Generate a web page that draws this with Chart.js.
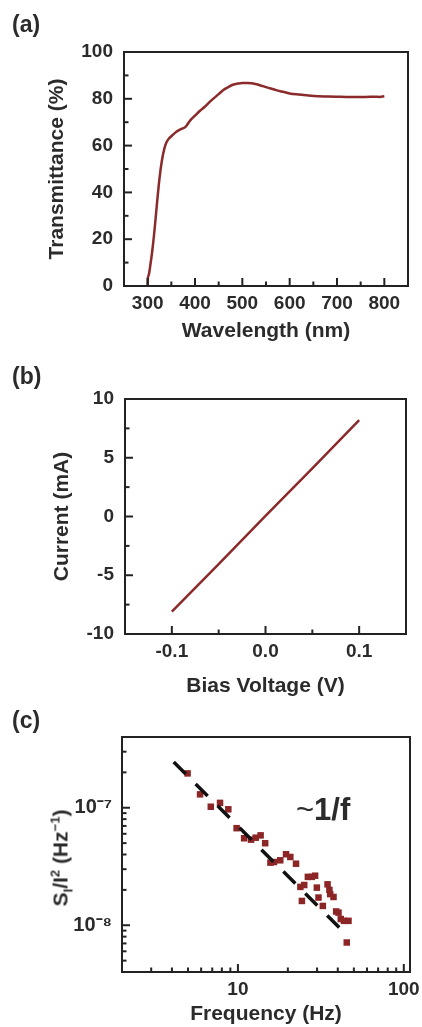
<!DOCTYPE html>
<html><head><meta charset="utf-8">
<script src="https://cdn.jsdelivr.net/npm/chart.js@4.4.0/dist/chart.umd.min.js"></script>
<style>
html,body{margin:0;padding:0;background:#fff;}
body{width:422px;height:1027px;position:relative;overflow:hidden;font-family:'Liberation Sans',Arial,sans-serif;color:#2b2b2b;}
canvas{position:absolute;left:0;}
.lbl{position:absolute;font-weight:bold;font-size:23px;line-height:1;}
#ctitle{position:absolute;left:60px;top:858px;transform:translate(-50%,-50%) rotate(-90deg);white-space:nowrap;font-weight:bold;font-size:21px;line-height:1;}
#ctitle sub,#ctitle sup{font-size:13px;line-height:0;}
#onef{position:absolute;left:296px;top:794px;font-size:31px;line-height:1;white-space:nowrap;color:#2b2b2b;}
#onef b{font-weight:bold;}
</style></head><body>
<canvas id="ca" width="422" height="345" style="top:0"></canvas>
<canvas id="cb" width="422" height="355" style="top:345px"></canvas>
<canvas id="cc" width="422" height="327" style="top:700px"></canvas>
<div class="lbl" style="left:12px;top:13px">(a)</div>
<div class="lbl" style="left:12px;top:365px">(b)</div>
<div class="lbl" style="left:12px;top:709px">(c)</div>
<div id="ctitle">S<sub>I</sub>/I<sup>2</sup> (Hz<sup>&minus;1</sup>)</div>
<div id="onef">~<b>1/f</b></div>
<script>
// ---------- data ----------
const WAVELENGTH = [300,300.5,302,305,310,315,320,325,330,335,340,345,350,360,370,380,390,400,410,420,430,440,450,460,470,480,490,500,510,520,530,540,550,560,570,580,590,600,620,640,660,680,700,720,740,760,780,790,800];
const TRANSMITTANCE = [0,3.5,4.5,8,15.5,25,36,46,53.5,58.5,61.5,63,64,65.8,67,68,70.8,72.8,74.8,76.5,78.5,80.3,82,83.8,85,86,86.5,86.8,86.8,86.6,86.2,85.6,85,84.4,83.8,83.2,82.8,82.3,81.8,81.4,81.1,81,80.9,80.8,80.8,80.8,80.9,80.8,81.1];

const BIAS_V = [-0.1,-0.05,0,0.05,0.1];
const CURRENT_MA = [-8.1,-4.05,0.05,4.1,8.2];

const FREQ_HZ = [4.97,5.91,6.86,7.80,8.75,9.82,10.9,12.0,12.8,13.7,14.6,15.7,16.5,18.0,19.5,20.7,22.4,23.8,25.1,24.3,26.4,27.9,29.2,29.9,30.6,32.5,34.7,35.6,36.0,37.7,39.1,40.4,41.7,43.6,46.4,45.3];
const NOISE = [1.96e-7,1.30e-7,1.02e-7,1.10e-7,0.97e-7,6.7e-8,5.5e-8,5.35e-8,5.56e-8,5.82e-8,4.99e-8,3.41e-8,3.45e-8,3.57e-8,4.02e-8,3.81e-8,3.34e-8,2.12e-8,2.20e-8,1.61e-8,2.58e-8,2.58e-8,2.64e-8,2.09e-8,1.72e-8,1.46e-8,2.23e-8,2.0e-8,1.84e-8,1.74e-8,1.31e-8,1.28e-8,1.13e-8,1.09e-8,1.09e-8,7.13e-9];
const FIT_FREQ = [4.1, 42];
const FIT_NOISE = [2.45e-7, 9.2e-9];

// tick values / labels
const A_X_TICKS = [300,400,500,600,700,800];
const A_X_MINOR = [350,450,550,650,750];
const A_Y_TICKS = [0,20,40,60,80,100];
const A_Y_MINOR = [10,30,50,70,90];
const B_X_TICKS = [-0.1,0,0.1];
const B_X_LABELS = ['-0.1','0.0','0.1'];
const B_X_MINOR = [-0.05,0.05];
const B_Y_TICKS = [-10,-5,0,5,10];
const B_Y_MINOR = [-7.5,-2.5,2.5,7.5];
const C_X_TICKS = [10,100];
const C_X_LABELS = ['10','100'];
const C_X_MINOR = [3,4,5,6,7,8,9,20,30,40,50,60,70,80,90];
const C_Y_TICKS = [1e-8,1e-7];
const C_Y_LABELS = ['10\u207B\u2078','10\u207B\u2077'];
const C_Y_MINOR = [5e-9,6e-9,7e-9,8e-9,9e-9,2e-8,3e-8,4e-8,5e-8,6e-8,7e-8,8e-8,9e-8,2e-7,3e-7];

// ---------- styling ----------
const TXT = '#2b2b2b';
const RED = '#8b2a2a';
Chart.defaults.font.family = "'Liberation Sans', Arial, sans-serif";
Chart.defaults.font.weight = 'bold';
Chart.defaults.color = TXT;

const frameTicks = {
  id: 'frameTicks',
  afterDraw(chart, args, opts) {
    const ctx = chart.ctx, a = chart.chartArea;
    ctx.save();
    ctx.strokeStyle = '#222';
    ctx.lineWidth = 2;
    ctx.strokeRect(a.left, a.top, a.right - a.left, a.bottom - a.top);
    const xs = chart.scales.x, ys = chart.scales.y;
    const drawX = (vals, len) => vals.forEach(v => {
      const p = xs.getPixelForValue(v);
      ctx.beginPath(); ctx.moveTo(p, a.bottom); ctx.lineTo(p, a.bottom - len); ctx.stroke();
    });
    const drawY = (vals, len) => vals.forEach(v => {
      const p = ys.getPixelForValue(v);
      ctx.beginPath(); ctx.moveTo(a.left, p); ctx.lineTo(a.left + len, p); ctx.stroke();
    });
    drawX(opts.xMajor || [], 8); drawX(opts.xMinor || [], 4.5);
    drawY(opts.yMajor || [], 8); drawY(opts.yMinor || [], 4.5);
    ctx.restore();
  }
};

function fixScale(size, horizontal) {
  return s => {
    if (horizontal) s.height = size; else s.width = size;
    s.paddingLeft = 0; s.paddingRight = 0; s.paddingTop = 0; s.paddingBottom = 0;
  };
}
function setTicks(vals) { return s => { s.ticks = vals.map(v => ({value: v})); }; }

function axisX(opts) {
  return Object.assign({
    grid: {display: false, drawTicks: false},
    border: {display: false},
    ticks: {font: {size: 19}, padding: 6, maxRotation: 0, autoSkip: false},
    title: {display: true, font: {size: 21}, padding: {top: 0, bottom: 0}}
  }, opts);
}
function axisY(opts) {
  return Object.assign({
    grid: {display: false, drawTicks: false},
    border: {display: false},
    ticks: {font: {size: 19}, padding: 11, autoSkip: false},
    title: {display: true, font: {size: 21}, padding: {top: 0, bottom: 0}}
  }, opts);
}

// ---------- (a) ----------
new Chart(document.getElementById('ca'), {
  type: 'line',
  data: {datasets: [{
    data: WAVELENGTH.map((w, i) => ({x: w, y: TRANSMITTANCE[i]})),
    borderColor: RED, borderWidth: 2.5, pointRadius: 0, tension: 0.3, cubicInterpolationMode: 'monotone'
  }]},
  options: {
    responsive: false, animation: false,
    layout: {padding: {top: 52, right: 14, left: 0, bottom: 0}},
    plugins: {legend: {display: false}, tooltip: {enabled: false},
      frameTicks: {xMajor: A_X_TICKS, xMinor: A_X_MINOR, yMajor: A_Y_TICKS, yMinor: A_Y_MINOR}},
    scales: {
      x: Object.assign(axisX({type: 'linear', min: 250, max: 850,
        afterFit: fixScale(59, true), afterBuildTicks: setTicks(A_X_TICKS)}),
        {title: {display: true, text: 'Wavelength (nm)', font: {size: 21}, padding: {top: 0, bottom: 1}}}),
      y: Object.assign(axisY({min: 0, max: 100,
        afterFit: fixScale(124, false), afterBuildTicks: setTicks(A_Y_TICKS)}),
        {title: {display: true, text: 'Transmittance (%)', font: {size: 21}, padding: {top: 45, bottom: 0}}})
    }
  },
  plugins: [frameTicks]
});

// ---------- (b) ----------
new Chart(document.getElementById('cb'), {
  type: 'line',
  data: {datasets: [{
    data: BIAS_V.map((v, i) => ({x: v, y: CURRENT_MA[i]})),
    borderColor: RED, borderWidth: 2.5, pointRadius: 0
  }]},
  options: {
    responsive: false, animation: false,
    layout: {padding: {top: 54, right: 16, left: 0, bottom: 0}},
    plugins: {legend: {display: false}, tooltip: {enabled: false},
      frameTicks: {xMajor: B_X_TICKS, xMinor: B_X_MINOR, yMajor: B_Y_TICKS, yMinor: B_Y_MINOR}},
    scales: {
      x: Object.assign(axisX({type: 'linear', min: -0.15, max: 0.15,
        afterFit: fixScale(66, true), afterBuildTicks: setTicks(B_X_TICKS)}),
        {ticks: {font: {size: 19}, padding: 6, maxRotation: 0, autoSkip: false,
          callback: v => B_X_LABELS[B_X_TICKS.findIndex(t => Math.abs(t - v) < 1e-9)]},
         title: {display: true, text: 'Bias Voltage (V)', font: {size: 21}, padding: {top: 0, bottom: 1}}}),
      y: Object.assign(axisY({min: -10, max: 10,
        afterFit: fixScale(125, false), afterBuildTicks: setTicks(B_Y_TICKS)}),
        {title: {display: true, text: 'Current (mA)', font: {size: 21}, padding: {top: 50, bottom: 0}}})
    }
  },
  plugins: [frameTicks]
});

// ---------- (c) ----------
new Chart(document.getElementById('cc'), {
  type: 'scatter',
  data: {datasets: [
    {
      type: 'line',
      data: FIT_FREQ.map((f, i) => ({x: f, y: FIT_NOISE[i]})),
      borderColor: '#111', borderWidth: 3.5, borderDash: [17, 14], pointRadius: 0, order: 1
    },
    {
      data: FREQ_HZ.map((f, i) => ({x: f, y: NOISE[i]})),
      pointStyle: 'rect', pointRadius: 4.6, backgroundColor: '#8c2626', borderWidth: 0, order: 2
    }
  ]},
  options: {
    responsive: false, animation: false,
    layout: {padding: {top: 37, right: 12, left: 0, bottom: 0}},
    plugins: {legend: {display: false}, tooltip: {enabled: false},
      frameTicks: {xMajor: C_X_TICKS, xMinor: C_X_MINOR, yMajor: C_Y_TICKS, yMinor: C_Y_MINOR}},
    scales: {
      x: Object.assign(axisX({type: 'logarithmic', min: 2, max: 109,
        afterFit: fixScale(55, true), afterBuildTicks: setTicks(C_X_TICKS)}),
        {ticks: {font: {size: 19}, padding: 6, maxRotation: 0, autoSkip: false,
          callback: v => C_X_LABELS[C_X_TICKS.indexOf(v)]},
         title: {display: true, text: 'Frequency (Hz)', font: {size: 21}, padding: {top: 0, bottom: 0}}}),
      y: Object.assign(axisY({type: 'logarithmic', min: 4e-9, max: 4e-7,
        afterFit: fixScale(122, false), afterBuildTicks: setTicks(C_Y_TICKS)}),
        {ticks: {font: {size: 20}, padding: 10, autoSkip: false,
          callback: v => C_Y_LABELS[C_Y_TICKS.findIndex(t => Math.abs(t - v) / t < 1e-6)]},
         title: {display: false}})
    }
  },
  plugins: [frameTicks]
});
</script>
</body></html>
